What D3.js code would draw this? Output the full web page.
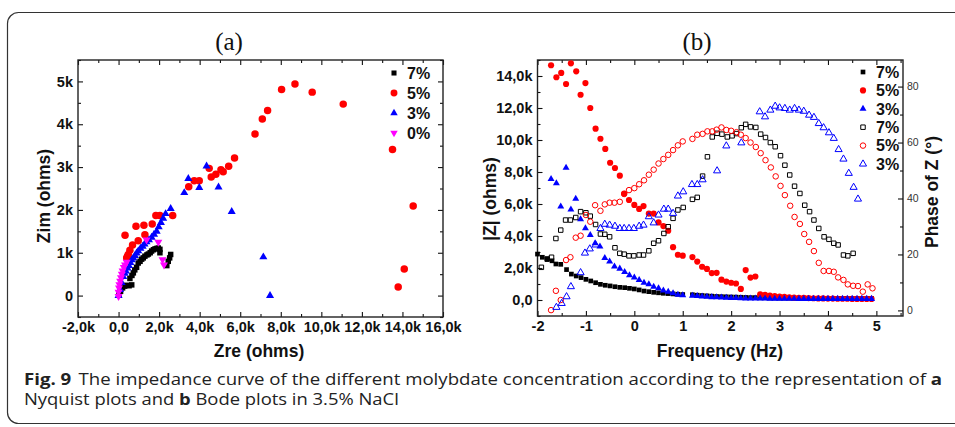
<!DOCTYPE html>
<html>
<head>
<meta charset="utf-8">
<script src="https://cdn.jsdelivr.net/npm/d3@7"></script>
<style>
  body { margin: 0; background: #fff; }
  svg { display: block; }
</style>
</head>
<body>
<svg id="fig" width="955" height="427"></svg>
<script>
// ---------- Nyquist data (Zre, Zim) in kOhm ----------
const nyqSeries = ["7%", "5%", "3%", "0%"];
const nyq7 = [[0.02,0.03],[0.10,0.10],[0.20,0.18],[0.30,0.22],[0.40,0.24],[0.52,0.23],[0.65,0.25],[0.56,0.40],[0.66,0.47],
  [0.73,0.53],[0.80,0.60],[0.89,0.66],[0.97,0.76],[1.06,0.80],[1.14,0.85],[1.22,0.88],[1.30,0.92],[1.40,0.95],[1.47,0.97],
  [1.56,1.00],[1.63,1.04],[1.72,1.07],[1.80,1.09],[1.88,1.10],[1.96,1.11],[2.04,1.00],[2.04,1.08],[2.38,0.70],[2.45,0.80],
  [2.52,0.88],[2.57,0.96]];
const nyq5 = [[0.40,0.88],[0.44,0.92],[0.48,0.96],[0.56,1.06],[0.69,1.18],[0.97,1.28],[0.32,1.41],[1.30,1.42],[0.86,1.62],
  [1.25,1.64],[1.66,1.67],[1.84,1.87],[2.04,1.87],[2.67,1.87],[3.46,2.54],[3.73,2.68],[3.98,2.68],[4.47,2.97],[4.57,2.77],
  [4.80,2.83],[5.05,2.94],[5.16,2.89],[5.43,3.02],[5.72,3.21],[6.73,3.77],[7.09,4.12],[7.35,4.32],[8.04,4.81],[8.70,4.94],
  [9.55,4.75],[11.08,4.47],[13.51,3.41],[14.53,2.09],[14.09,0.62],[13.79,0.20]];
const nyq3 = [[0.00,0.00],[0.07,0.14],[0.15,0.30],[0.23,0.44],[0.30,0.52],[0.36,0.57],[0.44,0.64],[0.51,0.70],[0.58,0.77],
  [0.65,0.83],[0.73,0.88],[0.81,0.93],[0.89,0.99],[0.97,1.04],[1.08,1.10],[1.19,1.15],[1.28,1.20],[1.38,1.25],[1.50,1.30],
  [1.63,1.36],[1.75,1.43],[1.88,1.50],[1.98,1.60],[2.09,1.70],[2.20,1.80],[2.32,1.91],[2.57,2.03],[3.24,2.40],[3.44,2.73],
  [3.98,2.52],[4.34,3.02],[4.93,2.53],[5.58,1.96],[7.14,0.90],[7.47,0.00]];
const nyq0 = [[0.00,-0.02],[0.00,0.08],[0.02,0.18],[0.04,0.26],[0.08,0.34],[0.12,0.42],[0.16,0.50],[0.20,0.58],[0.26,0.66],
  [0.32,0.72],[0.40,0.78],[1.38,1.30],[1.96,1.25],[2.17,0.84],[2.24,0.72]];

// ---------- Bode data: [log10 f, |Z| kOhm] and [log10 f, phase deg] ----------
const bodeSeries = ["7%", "5%", "3%"];
const z7 = [[-2.00,2.87],[-1.90,2.67],[-1.80,2.58],[-1.70,2.45],[-1.62,2.25],[-1.52,2.23],[-1.40,1.90],[-1.30,1.62],[-1.20,1.50],
  [-1.10,1.40],[-1.00,1.29],[-0.90,1.19],[-0.80,1.08],[-0.70,0.98],[-0.60,0.92],[-0.50,0.88],[-0.40,0.83],[-0.30,0.79],
  [-0.20,0.77],[-0.10,0.73],[0.00,0.69],[0.10,0.63],[0.20,0.56],[0.30,0.52],[0.40,0.48],[0.50,0.45],[0.60,0.42],[0.70,0.40],
  [0.80,0.38],[0.90,0.36],[1.00,0.34],[1.20,0.33],[1.30,0.30],[1.40,0.28],[1.50,0.26],[1.60,0.24],[1.70,0.22],[1.80,0.21],
  [1.90,0.20],[2.00,0.19],[2.10,0.18],[2.20,0.17],[2.30,0.16],[2.40,0.15],[2.50,0.15],[2.60,0.14],[2.70,0.14],[2.80,0.13],
  [2.90,0.13],[3.00,0.12],[3.10,0.12],[3.20,0.12],[3.30,0.11],[3.40,0.11],[3.50,0.11],[3.60,0.11],[3.70,0.10],[3.80,0.10],
  [3.90,0.10],[4.00,0.10],[4.10,0.10],[4.20,0.10],[4.30,0.10],[4.40,0.10],[4.50,0.10],[4.60,0.10],[4.70,0.10],[4.80,0.10],
  [4.90,0.10]];
const z5 = [[-1.72,14.67],[-1.61,13.92],[-1.51,14.19],[-1.41,13.50],[-1.31,14.79],[-1.20,14.29],[-1.11,12.83],[-1.01,13.56],
  [-0.91,12.00],[-0.80,10.71],[-0.70,10.08],[-0.60,9.44],[-0.50,8.58],[-0.40,8.25],[-0.30,7.77],[-0.21,6.65],[-0.11,6.25],
  [0.00,5.94],[0.10,5.69],[0.19,5.87],[0.30,5.40],[0.40,5.40],[0.50,4.85],[0.60,4.62],[0.70,4.33],[0.80,3.30],[0.90,2.83],
  [1.00,2.77],[1.20,2.68],[1.30,2.40],[1.40,2.08],[1.50,1.94],[1.60,1.68],[1.70,1.70],[1.80,1.27],[1.90,1.15],[2.00,1.08],
  [2.10,1.03],[2.20,0.69],[2.30,1.87],[2.40,1.40],[2.50,1.47],[2.60,0.35],[2.70,0.33],[2.80,0.28],[2.90,0.24],[3.00,0.21],
  [3.10,0.19],[3.20,0.17],[3.30,0.15],[3.40,0.14],[3.50,0.13],[3.60,0.12],[3.70,0.11],[3.80,0.10],[3.90,0.10],[4.00,0.09],
  [4.10,0.09],[4.20,0.08],[4.30,0.08],[4.40,0.08],[4.50,0.07],[4.60,0.07],[4.70,0.07],[4.80,0.07],[4.90,0.07]];
const z3 = [[-1.72,7.56],[-1.61,7.29],[-1.52,5.85],[-1.41,8.27],[-1.31,5.65],[-1.21,6.33],[-1.11,5.04],[-1.01,4.48],
  [-0.91,4.06],[-0.81,3.54],[-0.71,3.35],[-0.61,2.62],[-0.51,2.40],[-0.41,2.10],[-0.30,1.96],[-0.20,1.75],[-0.10,1.54],
  [0.00,1.40],[0.10,1.25],[0.20,1.08],[0.30,0.98],[0.40,0.83],[0.50,0.73],[0.60,0.60],[0.70,0.52],[0.80,0.42],[0.90,0.33],
  [1.00,0.29],[1.20,0.27],[1.30,0.25],[1.40,0.22],[1.50,0.20],[1.60,0.18],[1.70,0.17],[1.80,0.15],[1.90,0.14],[2.00,0.13],
  [2.10,0.12],[2.20,0.11],[2.30,0.10],[2.40,0.10],[2.50,0.09],[2.60,0.09],[2.70,0.09],[2.80,0.08],[2.90,0.08],[3.00,0.08],
  [3.10,0.08],[3.20,0.08],[3.30,0.08],[3.40,0.07],[3.50,0.07],[3.60,0.07],[3.70,0.07],[3.80,0.07],[3.90,0.07],[4.00,0.07],
  [4.10,0.07],[4.20,0.07],[4.30,0.07],[4.40,0.07],[4.50,0.07],[4.60,0.07],[4.70,0.07],[4.80,0.07],[4.90,0.07]];
const p7 = [[-1.92,15.4],[-1.80,18.3],[-1.71,19.0],[-1.62,25.7],[-1.52,28.7],[-1.42,32.3],[-1.32,32.3],[-1.21,33.2],
  [-1.11,35.3],[-1.00,34.9],[-0.91,33.7],[-0.80,30.7],[-0.70,27.3],[-0.61,27.2],[-0.51,26.3],[-0.40,22.4],[-0.30,20.4],
  [-0.21,20.1],[-0.11,19.5],[-0.01,19.5],[0.10,19.8],[0.19,19.8],[0.30,21.3],[0.40,24.0],[0.50,24.9],[0.61,27.5],[0.70,29.9],
  [0.80,32.9],[0.90,35.9],[1.01,36.8],[1.20,39.7],[1.30,40.4],[1.41,48.0],[1.51,54.9],[1.61,62.0],[1.71,63.3],[1.81,63.0],
  [1.92,62.0],[2.02,62.4],[2.11,63.2],[2.21,65.3],[2.30,66.5],[2.40,65.6],[2.51,65.4],[2.61,63.0],[2.71,61.8],[2.81,60.0],
  [2.91,58.5],[3.02,55.3],[3.11,51.9],[3.21,48.4],[3.31,44.4],[3.42,41.8],[3.52,37.6],[3.62,35.3],[3.71,32.3],[3.81,29.3],
  [3.92,26.3],[4.02,25.4],[4.12,24.0],[4.21,23.4],[4.32,19.8],[4.41,19.5],[4.52,20.4]];
const p5 = [[-1.72,0.1],[-1.62,7.0],[-1.52,3.7],[-1.41,18.0],[-1.32,19.0],[-1.21,26.0],[-1.11,26.7],[-1.00,34.1],[-0.91,31.7],
  [-0.81,37.6],[-0.70,35.6],[-0.61,37.9],[-0.51,38.5],[-0.41,38.5],[-0.30,38.8],[-0.21,41.6],[-0.11,43.0],[0.00,43.7],
  [0.10,45.1],[0.20,46.5],[0.30,48.5],[0.40,50.3],[0.50,52.5],[0.60,54.1],[0.70,55.6],[0.80,57.3],[0.90,59.0],[1.00,60.4],
  [1.20,61.3],[1.30,62.8],[1.41,63.1],[1.51,64.0],[1.61,64.0],[1.70,64.6],[1.80,65.4],[1.90,64.5],[2.00,64.2],[2.11,63.7],
  [2.20,62.8],[2.30,61.6],[2.40,60.0],[2.51,58.4],[2.61,56.2],[2.71,53.7],[2.82,51.1],[2.92,47.9],[3.02,44.5],[3.11,41.2],
  [3.22,37.4],[3.31,33.4],[3.42,30.9],[3.51,27.3],[3.61,24.5],[3.71,21.2],[3.81,17.0],[3.91,14.1],[4.02,14.1],[4.12,13.8],
  [4.21,11.8],[4.32,10.9],[4.41,9.3],[4.52,8.8],[4.62,8.7],[4.72,6.7],[4.82,9.3],[4.92,7.9]];
const p3 = [[-1.61,1.1],[-1.50,2.5],[-1.40,4.9],[-1.31,8.5],[-1.11,13.5],[-1.02,20.5],[-0.92,22.0],[-0.80,23.4],[-0.70,29.3],
  [-0.61,30.8],[-0.51,30.5],[-0.40,30.1],[-0.30,29.3],[-0.21,29.3],[-0.11,29.3],[-0.01,29.3],[0.10,30.1],[0.19,30.5],
  [0.30,33.5],[0.40,31.3],[0.50,34.1],[0.61,36.2],[0.70,36.2],[0.80,34.7],[0.90,40.9],[1.01,42.4],[1.19,45.0],[1.30,45.0],
  [1.41,46.7],[1.71,49.9],[1.90,58.8],[2.21,59.9],[2.59,71.0],[2.70,69.2],[2.81,71.6],[2.91,73.0],[3.00,72.4],[3.11,72.2],
  [3.21,71.6],[3.31,72.2],[3.40,71.6],[3.50,71.2],[3.61,69.8],[3.71,69.0],[3.81,66.8],[3.91,65.3],[4.02,63.5],[4.12,61.5],
  [4.22,57.5],[4.32,54.1],[4.43,49.0],[4.53,44.0],[4.62,39.8]];

// ---------- axis ticks ----------
const nyqXTicks = [-2, 0, 2, 4, 6, 8, 10, 12, 14, 16];
const nyqYTicks = [0, 1, 2, 3, 4, 5];
const bodeXTicks = [-2, -1, 0, 1, 2, 3, 4, 5];
const bodeZTicks = [0, 2, 4, 6, 8, 10, 12, 14];
const bodePhaseTicks = [0, 20, 40, 60, 80];

const svg = d3.select("#fig");
const SANS = "'Liberation Sans', Arial, sans-serif";
const INK = "#111";

// outer caption box
svg.append("rect")
  .attr("x", 7.5).attr("y", 12.5).attr("width", 990).attr("height", 411)
  .attr("rx", 11).attr("fill", "none").attr("stroke", "#333").attr("stroke-width", 1.2);

// ---------- helpers ----------
function drawMarks(g, data, xs, ys, opt) {
  const path = d3.symbol().type(opt.type).size(opt.size)();
  g.append("g").selectAll("path").data(data).join("path")
    .attr("d", path)
    .attr("transform", d => `translate(${xs(d[0])},${ys(d[1])})` + (opt.rot ? ` rotate(${opt.rot})` : ""))
    .attr("fill", opt.fill).attr("stroke", opt.stroke || "none")
    .attr("stroke-width", opt.sw || 0);
}
function styleAxis(sel, size, weight, color) {
  sel.select(".domain").remove();
  sel.attr("font-family", SANS).attr("font-size", size).attr("font-weight", weight)
     .style("color", INK);
  sel.selectAll("line").attr("stroke", INK).attr("stroke-width", 1.1);
  if (color) sel.selectAll("text").attr("fill", color);
}
function frameAxes(g, xs, ys, xMajor, xMinor, yMajor, yMinor, fmtX, fmtY, rightScale) {
  const [x0, x1] = xs.range(), [y0, y1] = ys.range();
  // bottom
  g.append("g").attr("transform", `translate(0,${y0})`)
    .call(d3.axisBottom(xs).tickValues(xMajor).tickFormat(fmtX).tickSize(-5).tickPadding(5))
    .call(s => styleAxis(s, 14.5, "bold"));
  g.append("g").attr("transform", `translate(0,${y0})`)
    .call(d3.axisBottom(xs).tickValues(xMinor).tickFormat("").tickSize(-3))
    .call(s => styleAxis(s, 10, "normal"));
  // top
  g.append("g").attr("transform", `translate(0,${y1})`)
    .call(d3.axisTop(xs).tickValues(xMajor).tickFormat("").tickSize(-5))
    .call(s => styleAxis(s, 10, "normal"));
  g.append("g").attr("transform", `translate(0,${y1})`)
    .call(d3.axisTop(xs).tickValues(xMinor).tickFormat("").tickSize(-3))
    .call(s => styleAxis(s, 10, "normal"));
  // left
  g.append("g").attr("transform", `translate(${x0},0)`)
    .call(d3.axisLeft(ys).tickValues(yMajor).tickFormat(fmtY).tickSize(-5).tickPadding(5))
    .call(s => styleAxis(s, 14.5, "bold"));
  g.append("g").attr("transform", `translate(${x0},0)`)
    .call(d3.axisLeft(ys).tickValues(yMinor).tickFormat("").tickSize(-3))
    .call(s => styleAxis(s, 10, "normal"));
  if (!rightScale) {
    g.append("g").attr("transform", `translate(${x1},0)`)
      .call(d3.axisRight(ys).tickValues(yMajor).tickFormat("").tickSize(-5))
      .call(s => styleAxis(s, 10, "normal"));
    g.append("g").attr("transform", `translate(${x1},0)`)
      .call(d3.axisRight(ys).tickValues(yMinor).tickFormat("").tickSize(-3))
      .call(s => styleAxis(s, 10, "normal"));
  }
  g.append("rect").attr("x", x0).attr("y", y1).attr("width", x1 - x0).attr("height", y0 - y1)
    .attr("fill", "none").attr("stroke", "#222").attr("stroke-width", 1.4);
}
function legend(g, items, x, y0, dy) {
  items.forEach((it, i) => {
    const y = y0 + i * dy;
    g.append("path").attr("d", d3.symbol().type(it.type).size(it.size)())
      .attr("transform", `translate(${x},${y})` + (it.rot ? ` rotate(${it.rot})` : ""))
      .attr("fill", it.fill).attr("stroke", it.stroke || "none").attr("stroke-width", it.sw || 0);
    g.append("text").attr("x", x + 13).attr("y", y).attr("dy", "0.36em")
      .attr("font-family", SANS).attr("font-weight", "bold").attr("font-size", 16)
      .attr("fill", INK).text(it.label);
  });
}
const commaK = d => d === 0 ? "0,0" : d.toFixed(1).replace(".", ",") + "k";

// ---------- panel (a): Nyquist ----------
const ga = svg.append("g");
const xa = d3.scaleLinear([-2, 16], [78, 443]);
const ya = d3.scaleLinear([-0.5, 5.5], [317, 60]);

ga.append("text").attr("x", 229).attr("y", 50).attr("text-anchor", "middle")
  .attr("font-family", "'Liberation Serif', 'Times New Roman', serif").attr("font-size", 25)
  .attr("fill", INK).text("(a)");

frameAxes(ga, xa, ya, nyqXTicks, d3.range(-1, 16, 2), nyqYTicks, d3.range(-0.5, 5.6, 1),
  commaK, d => d === 0 ? "0" : d + "k");

const nyqStyle = [
  { data: nyq7, type: d3.symbolSquare, size: 30, fill: "#000" },
  { data: nyq5, type: d3.symbolCircle, size: 44, fill: "#ff0000" },
  { data: nyq3, type: d3.symbolTriangle, size: 28, fill: "#0000ff" },
  { data: nyq0, type: d3.symbolTriangle, size: 28, fill: "#ff00ff", rot: 180 }
];
nyqStyle.forEach(s => drawMarks(ga, s.data, xa, ya, s));
legend(ga, nyqStyle.map((s, i) => ({ ...s, label: nyqSeries[i], size: s.size * 0.85 })), 394, 73, 20);

ga.append("text").attr("x", 259).attr("y", 357).attr("text-anchor", "middle")
  .attr("font-family", SANS).attr("font-weight", "bold").attr("font-size", 17.5).attr("fill", INK)
  .text("Zre (ohms)");
ga.append("text").attr("transform", "translate(50,196) rotate(-90)").attr("text-anchor", "middle")
  .attr("font-family", SANS).attr("font-weight", "bold").attr("font-size", 17.5).attr("fill", INK)
  .text("Zim (ohms)");

// ---------- panel (b): Bode ----------
const gb = svg.append("g");
const xb = d3.scaleLinear([-2, 5.55], [537.5, 903]);
const yb = d3.scaleLinear([-1, 15], [316, 60]);
const yp = d3.scaleLinear([-2, 89.5], [316, 60]);

gb.append("text").attr("x", 697).attr("y", 50).attr("text-anchor", "middle")
  .attr("font-family", "'Liberation Serif', 'Times New Roman', serif").attr("font-size", 25)
  .attr("fill", INK).text("(b)");

frameAxes(gb, xb, yb, bodeXTicks, d3.range(-1.5, 5.6, 1), bodeZTicks, d3.range(-1, 15.1, 2),
  d => String(d), commaK, yp);
gb.append("g").attr("transform", `translate(903,0)`)
  .call(d3.axisRight(yp).tickValues(bodePhaseTicks).tickFormat(d => String(d)).tickSize(-5).tickPadding(4))
  .call(s => styleAxis(s, 10.5, "normal", "#333"));
gb.append("g").attr("transform", `translate(903,0)`)
  .call(d3.axisRight(yp).tickValues([10, 30, 50, 70])).call(s => s.selectAll("text").remove())
  .call(s => s.selectAll("line").attr("x2", -3))
  .call(s => styleAxis(s, 10, "normal"));

const bodeFilled = [
  { data: z7, type: d3.symbolSquare, size: 22, fill: "#000" },
  { data: z5, type: d3.symbolCircle, size: 30, fill: "#ff0000" },
  { data: z3, type: d3.symbolTriangle, size: 21, fill: "#0000ff" }
];
const bodeOpen = [
  { data: p7, type: d3.symbolSquare, size: 20, fill: "none", stroke: "#000", sw: 1 },
  { data: p5, type: d3.symbolCircle, size: 24, fill: "none", stroke: "#ff0000", sw: 1 },
  { data: p3, type: d3.symbolTriangle, size: 22, fill: "none", stroke: "#0000ff", sw: 1 }
];
bodeFilled.forEach(s => drawMarks(gb, s.data, xb, yb, s));
bodeOpen.forEach(s => drawMarks(gb, s.data, xb, yp, s));
legend(gb, [...bodeFilled, ...bodeOpen].map((s, i) => ({ ...s, label: bodeSeries[i % 3] })), 863, 72, 18.4);

gb.append("text").attr("x", 720).attr("y", 357).attr("text-anchor", "middle")
  .attr("font-family", SANS).attr("font-weight", "bold").attr("font-size", 17.5).attr("fill", INK)
  .text("Frequency (Hz)");
gb.append("text").attr("transform", "translate(496,199) rotate(-90)").attr("text-anchor", "middle")
  .attr("font-family", SANS).attr("font-weight", "bold").attr("font-size", 17.5).attr("fill", INK)
  .text("|Z| (ohms)");
gb.append("text").attr("transform", "translate(938,192) rotate(-90)").attr("text-anchor", "middle")
  .attr("font-family", SANS).attr("font-weight", "bold").attr("font-size", 17.5).attr("fill", INK)
  .text("Phase of Z (°)");

// ---------- caption ----------
const CAP = "'Open Sans', 'Noto Sans', sans-serif";
function capLine(y, parts) {
  const t = svg.append("text").attr("x", 24).attr("y", y)
    .attr("font-family", CAP).attr("font-size", 15.5).attr("fill", "#222");
  parts.forEach(p => {
    const s = t.append("tspan").text(p.t);
    if (p.b) s.attr("font-weight", "bold");
    if (p.dx) s.attr("dx", p.dx);
  });
  return t;
}
const cap1 = capLine(385, [
  { t: "Fig. 9", b: true },
  { t: "The impedance curve of the different molybdate concentration according to the representation of", dx: 6 },
  { t: "a", b: true, dx: 4 }
]);
const cap2 = capLine(405, [
  { t: "Nyquist plots and" },
  { t: "b", b: true, dx: 4 },
  { t: "Bode plots in 3.5% NaCl", dx: 4 }
]);
const n1 = cap1.node().getComputedTextLength();
const n2 = cap2.node().getComputedTextLength();
const k = 918 / n1;
cap1.attr("textLength", n1 * k).attr("lengthAdjust", "spacingAndGlyphs");
cap2.attr("textLength", n2 * k).attr("lengthAdjust", "spacingAndGlyphs");
</script>
</body>
</html>
